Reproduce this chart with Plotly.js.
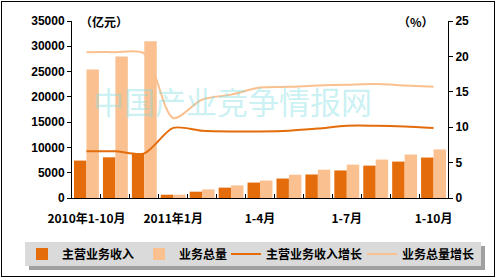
<!DOCTYPE html>
<html><head><meta charset="utf-8">
<script src="https://cdn.plot.ly/plotly-3.0.1.min.js"></script>
<style>
html,body{margin:0;padding:0;background:#fff;}
#wrap{position:absolute;left:1px;top:1px;width:492px;height:274px;border:1px solid #000;overflow:hidden;}
#chart{position:absolute;left:-2px;top:-2px;width:496px;height:278px;}
</style></head>
<body><div id="wrap"><div id="chart"></div></div>
<script>
const categories = ['2010年1-10月','2010年1-11月','2010年1-12月','2011年1月','1-2月','1-3月','1-4月','1-5月','1-6月','1-7月','1-8月','1-9月','1-10月'];
const tickLabels = ['2010年1-10月','','','2011年1月','','','1-4月','','','1-7月','','','1-10月'];
const revenue = [7400, 8050, 8800, 650, 1250, 2050, 3050, 3850, 4650, 5450, 6400, 7200, 8000];
const volume = [25400, 28000, 31000, 650, 1700, 2500, 3450, 4600, 5600, 6600, 7600, 8600, 9600];
const revenueGrowth = [6.6, 6.6, 6.3, 9.9, 9.5, 9.4, 9.4, 9.5, 9.8, 10.2, 10.2, 10.1, 9.9];
const volumeGrowth = [20.6, 20.6, 20.4, 11.3, 13.9, 14.6, 15.6, 15.7, 15.9, 16.0, 16.1, 15.9, 15.7];
const seriesNames = ['主营业务收入','业务总量','主营业务收入增长','业务总量增长'];

const dark = '#E46C0A', light = '#FAC090';
const bold = {family:'Liberation Sans, Arial, sans-serif', size:12, color:'#000', weight:'bold'};
const cjk = {family:'Noto Sans CJK SC, sans-serif', size:12, color:'#000', weight:'bold'};

const data = [
  {type:'bar', name:seriesNames[0], x:categories, y:revenue, marker:{color:dark}, legend:'legend'},
  {type:'bar', name:seriesNames[1], x:categories, y:volume, marker:{color:light}, legend:'legend'},
  {type:'scatter', mode:'lines', name:seriesNames[2], x:categories, y:revenueGrowth, yaxis:'y2', line:{color:dark, width:2, shape:'spline', smoothing:0.8}, legend:'legend2'},
  {type:'scatter', mode:'lines', name:seriesNames[3], x:categories, y:volumeGrowth, yaxis:'y2', line:{color:light, width:2, shape:'spline', smoothing:0.8}, legend:'legend3'}
];

// figure-pixel helpers for paper coords (plot area x 72..448, y 21..198)
const px = v => (v - 72) / 376;
const py = v => (198 - v) / 177;
const legBase = {orientation:'h', xref:'container', yref:'container', xanchor:'left', y:1 - 254/278, yanchor:'middle', bgcolor:'rgba(0,0,0,0)', font:cjk, traceorder:'normal', itemwidth:30};

const layout = {
  width:496, height:278,
  margin:{l:72, r:48, t:21, b:80},
  paper_bgcolor:'#fff', plot_bgcolor:'#fff',
  barmode:'group', bargap:0.14, bargroupgap:0,
  showlegend:true,
  legend:Object.assign({}, legBase, {x:22/496}),
  legend2:Object.assign({}, legBase, {x:226/496}),
  legend3:Object.assign({}, legBase, {x:362/496}),
  xaxis:{type:'category', tickvals:categories, ticktext:tickLabels, tickangle:0, tickfont:cjk, ticklabelstandoff:10, showline:true, linecolor:'#000', linewidth:1, ticks:'inside', ticklen:4, tickcolor:'#000', tickson:'boundaries', showgrid:false, zeroline:false},
  yaxis:{range:[0,35000], dtick:5000, tickfont:bold, showline:true, linecolor:'#000', ticks:'outside', ticklen:4, tickcolor:'#000', showgrid:false, zeroline:false, tickformat:'d'},
  yaxis2:{range:[0,25], dtick:5, overlaying:'y', side:'right', tickfont:bold, showline:true, linecolor:'#000', ticks:'outside', ticklen:4, tickcolor:'#000', showgrid:false, zeroline:false},
  annotations:[
    {xref:'paper', yref:'paper', x:px(78), y:1.0, xanchor:'left', yanchor:'middle', text:'（亿元）', showarrow:false, font:cjk},
    {xref:'paper', yref:'paper', x:px(436), y:1.0, xanchor:'right', yanchor:'middle', text:'（%）', showarrow:false, font:cjk},
    {xref:'paper', yref:'paper', x:px(232), y:py(100), xanchor:'center', yanchor:'middle', text:'中国产业竞争情报网', showarrow:false, font:{family:'Noto Sans CJK SC, sans-serif', size:31, color:'rgba(120,220,225,0.4)'}}
  ],
  shapes:[
    {type:'rect', xref:'paper', yref:'paper', x0:px(29), x1:px(485), y0:py(246), y1:py(270), fillcolor:'#a0a0a0', line:{width:0}, layer:'below'},
    {type:'rect', xref:'paper', yref:'paper', x0:px(25), x1:px(481), y0:py(242), y1:py(266), fillcolor:'#dadada', line:{width:0}, layer:'below'}
  ]
};
Plotly.newPlot('chart', data, layout, {displayModeBar:false, staticPlot:true});
</script></body></html>
